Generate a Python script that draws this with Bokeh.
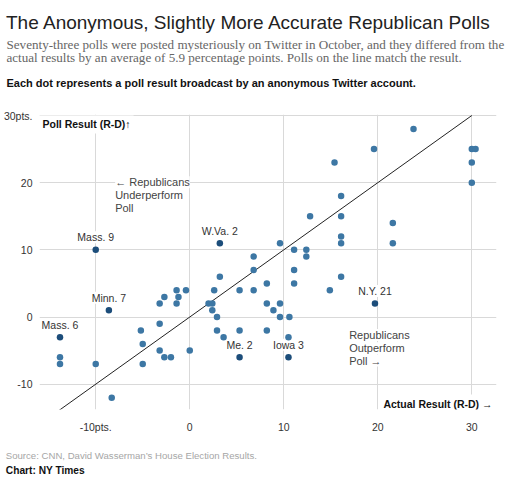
from bokeh.plotting import figure
from bokeh.models import Label, LabelSet, ColumnDataSource, FixedTicker, Range1d, Title
from bokeh.core.properties import value
from bokeh.embed import file_html
from bokeh.resources import INLINE

# ---------------- data ----------------
actual = [-13.8, -13.8, -10.0, -8.3, -5.2, -5.0, -5.0, -3.2, -3.2, -2.7,
          -1.4, -0.4, -1.2, -1.4, -3.2, -2.7, -2.0, 0.0, 3.2, 2.6,
          2.0, 2.4, 2.4, 2.9, 2.9, 3.6, 5.3, 5.3, 6.8, 6.8,
          6.8, 8.2, 8.2, 8.2, 8.9, 9.6, 9.6, 9.6, 10.6, 10.5,
          11.1, 11.1, 11.1, 12.4, 12.4, 12.8, 19.6, 15.4, 16.1, 16.1,
          16.1, 16.1, 21.6, 21.6, 16.1, 14.9, 23.8, 30.0, 30.4, 30.0, 30.0]
poll = [-6, -7, -7, -12, -2, -4, -7, -1, 2, 3,
        4, 4, 3, 2, -5, -6, -6, -5, 6, 4,
        2, 2, 1, 0, -2, -3, 4, -2, 9, 7,
        4, 5, 2, -2, 1, 11, 2, 0, 0, -3,
        10, 7, 5, 10, 9, 15, 25, 23, 18, 15,
        12, 11, 14, 11, 6, 4, 28, 25, 25, 23, 20]

named_districts = ["Mass. 9", "Minn. 7", "Mass. 6", "W.Va. 2", "Me. 2", "Iowa 3", "N.Y. 21"]
named_actual = [-10.0, -8.6, -13.8, 3.2, 5.3, 10.5, 19.7]
named_poll = [10, 1, -3, 11, -6, -6, 2]

ticks = [-10, 0, 10, 20, 30]
x_tick_labels = ["-10pts.", "0", "10", "20", "30"]
y_tick_labels = ["-10", "0", "10", "20", "30pts."]
parity_line = [-14, 30]

title_text = "The Anonymous, Slightly More Accurate Republican Polls"
subtitle_lines = ["Seventy-three polls were posted mysteriously on Twitter in October, and they differed from the",
                  "actual results by an average of 5.9 percentage points. Polls on the line match the result."]
note_text = "Each dot represents a poll result broadcast by an anonymous Twitter account."
source_text = "Source: CNN, David Wasserman\u2019s House Election Results."
credit_text = "Chart: NY Times"
y_title = "Poll Result (R-D)\u2191"
x_title = "Actual Result (R-D) \u2192"
under_lines = ["\u2190 Republicans", "Underperform", "Poll"]
over_lines = ["Republicans", "Outperform", "Poll \u2192"]

# ---------------- layout (page pixels) ----------------
W, H = 510, 484
F_LEFT, F_RIGHT, F_TOP, F_BOTTOM = 37, 496, 114, 411
XS, YS = 9.443, 6.7625
X0, Y0 = 187.9, 317.9


def cx(px):
    return (px - X0) / XS


def cy(py):
    return (Y0 - py) / YS


p = figure(width=W, height=H, title=None,
           x_range=Range1d(cx(F_LEFT), cx(F_RIGHT)), y_range=Range1d(cy(F_BOTTOM), cy(F_TOP)),
           min_border_left=F_LEFT, min_border_right=W - F_RIGHT,
           min_border_top=F_TOP, min_border_bottom=H - F_BOTTOM,
           output_backend="svg", toolbar_location=None)
p.outline_line_color = None
p.background_fill_color = "white"
p.border_fill_color = "white"

for ax in (p.xaxis[0], p.yaxis[0]):
    ax.ticker = FixedTicker(ticks=ticks)
    ax.axis_line_color = None
    ax.major_tick_line_color = None
    ax.minor_tick_line_color = None
    ax.major_tick_out = 0
    ax.major_tick_in = 0
    ax.major_label_text_font = "Liberation Sans"
    ax.major_label_text_font_size = "10.5px"
    ax.major_label_text_color = "#333333"
p.xaxis.major_label_overrides = dict(zip(ticks, x_tick_labels))
p.yaxis.major_label_overrides = dict(zip(ticks, y_tick_labels))
p.xaxis.major_label_standoff = 11
p.yaxis.major_label_standoff = 7

p.xgrid.ticker = FixedTicker(ticks=ticks)
p.ygrid.ticker = FixedTicker(ticks=ticks)
p.grid.grid_line_color = "#d9d9d9"
p.grid.grid_line_width = 1


def inner_label(text, px, py, align="left", bold=False, size="10.5px", color="#333333", pad=3):
    p.add_layout(Label(x=cx(px), y=cy(py), text=text, text_align=align, text_baseline="middle",
                       text_font="Liberation Sans", text_font_size=size, text_color=color,
                       text_font_style="bold" if bold else "normal",
                       background_fill_color="white", padding=pad, level="underlay"))


inner_label(y_title, 37, 124, bold=True, color="#111111")
inner_label(x_title, 495, 405, align="right", bold=True, color="#111111")
for line, py in zip(under_lines, [182.3, 195.0, 207.7]):
    inner_label(line, 113, py, color="#444444", size="11px", pad=0)
for line, py in zip(over_lines, [336.0, 349.3, 361.7]):
    inner_label(line, 348, py, color="#444444", size="11px", pad=0)

named_src = ColumnDataSource(dict(x=named_actual, y=named_poll, name=named_districts))
p.add_layout(LabelSet(x="x", y="y", text="name", source=named_src, y_offset=12.5,
                      text_align="center", text_baseline="middle",
                      text_font=value("Liberation Sans"), text_font_size="10.5px",
                      text_color="#333333", background_fill_color="white",
                      level="underlay"))

p.line(parity_line, parity_line, line_color="#222222", line_width=1)
p.scatter(actual, poll, size=6.5, color="#3d77a4", line_color=None)
p.scatter(named_actual, named_poll, size=6.5, color="#1c4d7a", line_color=None)


# ---------------- titles / captions in the side panels ----------------
def side_text(place, text, x_px, box_h, font, size_px, color, bold=False):
    est_h = 1.14 * size_px
    p.add_layout(Title(text=text, align="left", vertical_align="middle",
                       offset=x_px - F_LEFT, standoff=box_h - 2 - est_h,
                       text_font=font, text_font_size=f"{size_px}px", text_color=color,
                       text_font_style="bold" if bold else "normal"), place)


# above: first added sits next to the frame
side_text("above", " ", 0, 15, "Liberation Sans", 1, "#ffffff")
side_text("above", note_text, 4, 34, "Liberation Sans", 11, "#111111", bold=True)
side_text("above", subtitle_lines[1], 4, 19, "Liberation Serif", 13.1, "#666666")
side_text("above", subtitle_lines[0], 4, 6, "Liberation Serif", 13.1, "#666666")
side_text("above", title_text, 3.5, 40, "Liberation Sans", 19, "#222222")

# below: after the x axis
side_text("below", " ", 0, 13, "Liberation Sans", 1, "#ffffff")
side_text("below", source_text, 3.3, 14, "Liberation Sans", 9.6, "#a6a6a6")
side_text("below", credit_text, 3.3, 16, "Liberation Sans", 10.2, "#111111", bold=True)
side_text("below", " ", 0, 7, "Liberation Sans", 1, "#ffffff")

open("out.html", "w").write(file_html(p, INLINE))
